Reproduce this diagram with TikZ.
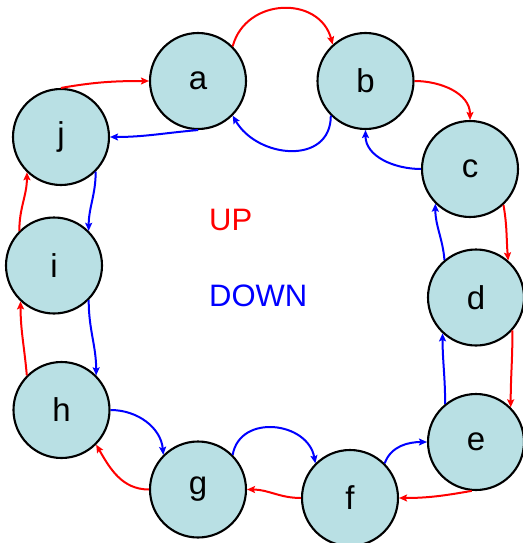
\documentclass[tikz,border=0pt]{standalone}
\usepackage{fontspec}
\setmainfont{Liberation Sans}
\usetikzlibrary{arrows.meta}
\definecolor{nodefill}{RGB}{185,224,228}
\tikzset{
  st/.style={circle, draw=black, line width=2.1pt, fill=nodefill, minimum size=96pt, inner sep=0pt, font=\fontsize{33}{38}\selectfont},
  up/.style={draw=red, line width=2pt, -{Stealth[length=8pt,width=7pt,inset=1.5pt]}},
  down/.style={draw=blue, line width=2pt, -{Stealth[length=8pt,width=7pt,inset=1.5pt]}},
  lbl/.style={font=\fontsize{31}{36}\selectfont, anchor=base west, inner sep=0pt}
}
\begin{document}
\begin{tikzpicture}[x=1pt,y=1pt]
\useasboundingbox (0,0) rectangle (522,-543);
\node[st] (a) at (198,-81) {a};
\node[st] (b) at (365.5,-81) {b};
\node[st] (c) at (470,-169) {c};
\node[st] (d) at (476,-297.5) {d};
\node[st] (e) at (476,-442) {e};
\node[st] (f) at (350,-498) {f};
\node[st] (g) at (198,-489.5) {g};
\node[st] (h) at (61.5,-410) {h};
\node[st] (i) at (54,-265.5) {i};
\node[st] (j) at (61,-137) {j};
\node[lbl, text=red] (uplbl) at (209,-230) {UP};
\node[lbl, text=blue] (downlbl) at (209,-306) {DOWN};
% UP (red)
\draw[up] (a.45) to[out=75,in=105,looseness=1.3] (b.132);
\draw[up] (b.east) to[out=0,in=90] (c.north);
\draw[up] (c.-47) to[out=-80,in=95] (d.49);
\draw[up] (d.-42) to[out=-90,in=90] (e.45);
\draw[up] (e.-95) to[out=190,in=0] (f.east);
\draw[up] (f.west) to[out=180,in=0] (g.east);
\draw[up] (g.west) to[out=180,in=-60] (h.-45);
\draw[up] (h.135) to[out=95,in=-90] (i.-133);
\draw[up] (i.135) to[out=90,in=-90] (j.-134);
\draw[up] (j.north) to[out=10,in=180] (a.west);
% DOWN (blue)
\draw[down] (b.-135) to[out=-90,in=-60,looseness=1.3] (a.-45);
\draw[down] (a.south) to[out=185,in=0] (j.east);
\draw[down] (j.-45) to[out=-90,in=90] (i.45);
\draw[down] (i.-45) to[out=-90,in=90] (h.45);
\draw[down] (h.east) to[out=0,in=95] (g.135);
\draw[down] (g.45) to[out=80,in=100,looseness=1.3] (f.135);
\draw[down] (f.45) to[out=70,in=180] (e.west);
\draw[down] (e.129) to[out=90,in=-90] (d.-133);
\draw[down] (d.130) to[out=95,in=-90] (c.-135);
\draw[down] (c.west) to[out=180,in=-90] (b.south);
\end{tikzpicture}
\end{document}
